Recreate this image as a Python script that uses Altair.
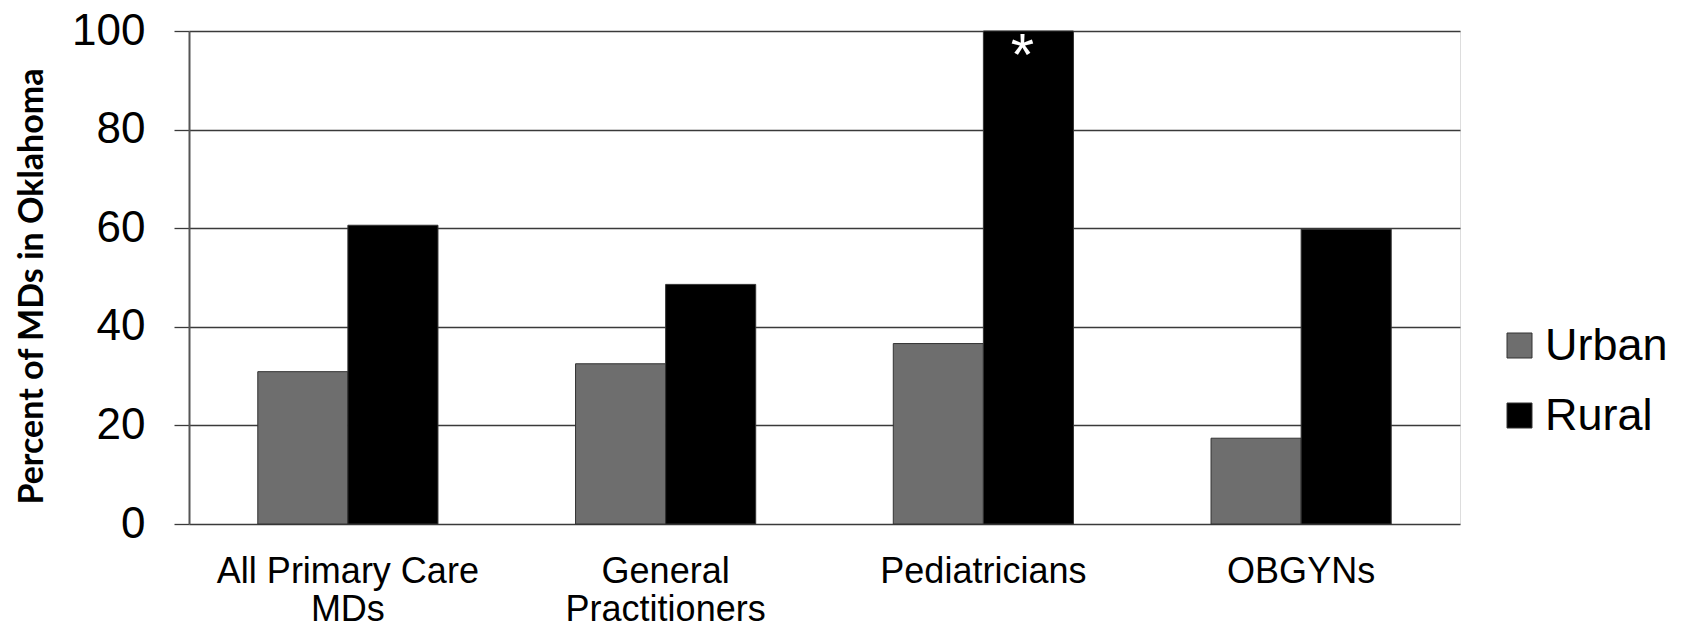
import altair as alt
import pandas as pd

categories = ["All Primary Care|MDs", "General|Practitioners", "Pediatricians", "OBGYNs"]
groups = ["Urban", "Rural"]
urban = [30.9, 32.5, 36.6, 17.4]
rural = [60.6, 48.6, 100.0, 59.8]
y_ticks = [0, 20, 40, 60, 80, 100]
note_category = "Pediatricians"
note_group = "Rural"
note_text = "*"

rows = []
for c, u, r in zip(categories, urban, rural):
    rows.append({"category": c, "group": "Urban", "value": u})
    rows.append({"category": c, "group": "Rural", "value": r})
df = pd.DataFrame(rows)

note_df = pd.DataFrame([{"category": note_category, "group": note_group,
                         "value": rural[categories.index(note_category)], "text": note_text}])

W, H = 1271, 493

x_enc = alt.X("category:N", sort=categories,
              scale=alt.Scale(paddingInner=0.433, paddingOuter=0.2165),
              axis=alt.Axis(title=None, labelExpr="split(datum.label, '|')",
                            labelAngle=0, ticks=False, domain=False, grid=False,
                            labelFont="Liberation Sans", labelFontSize=36,
                            labelColor="#000000", labelLineHeight=38, labelLimit=600,
                            labelPadding=30, labelBaseline="top"))
xo_enc = alt.XOffset("group:N", sort=groups)
y_scale = alt.Scale(domain=[0, 100], nice=False)

bars = alt.Chart(df).mark_bar(stroke="#333333", strokeWidth=1).encode(
    x=x_enc,
    xOffset=xo_enc,
    y=alt.Y("value:Q", scale=y_scale,
            axis=alt.Axis(title="Percent of MDs in Oklahoma", values=y_ticks,
                          grid=True, gridColor="#3a3a3a", gridWidth=1.3,
                          domain=True, domainColor="#555555", domainWidth=2,
                          ticks=True, tickSize=15, tickColor="#3a3a3a", tickWidth=1.3,
                          labelFont="Liberation Sans", labelFontSize=44,
                          labelColor="#000000", labelPadding=29,
                          titleFont="Lato", titleFontSize=34, titleFontWeight="bold",
                          titleColor="#000000", titleAngle=-90,
                          titleX=-147, titleY=255, titleAlign="center",
                          titleBaseline="alphabetic")),
    color=alt.Color("group:N", sort=groups,
                    scale=alt.Scale(domain=groups, range=["#6e6e6e", "#000000"]),
                    legend=alt.Legend(title=None, orient="none", legendX=1308, legendY=292,
                                      symbolType="square", symbolSize=625,
                                      symbolStrokeColor="#333333", symbolStrokeWidth=1,
                                      labelFont="Liberation Sans", labelFontSize=45,
                                      labelColor="#000000", labelOffset=3, labelLimit=300,
                                      rowPadding=24, padding=0)),
)

note = alt.Chart(note_df).mark_text(color="white", fontSize=60, font="Liberation Sans",
                                    baseline="top", dy=-3, dx=-6).encode(
    x=alt.X("category:N", sort=categories),
    xOffset=alt.XOffset("group:N", sort=groups),
    y=alt.Y("value:Q", scale=y_scale),
    text="text:N",
)

chart = alt.layer(bars, note).properties(
    width=W, height=H,
    autosize=alt.AutoSizeParams(type="none"),
    padding={"left": 181, "top": 23, "right": 213, "bottom": 104},
).configure_view(stroke=None).configure(background="white")

chart.save("out.html", embed_options={"renderer": "svg", "actions": False})
